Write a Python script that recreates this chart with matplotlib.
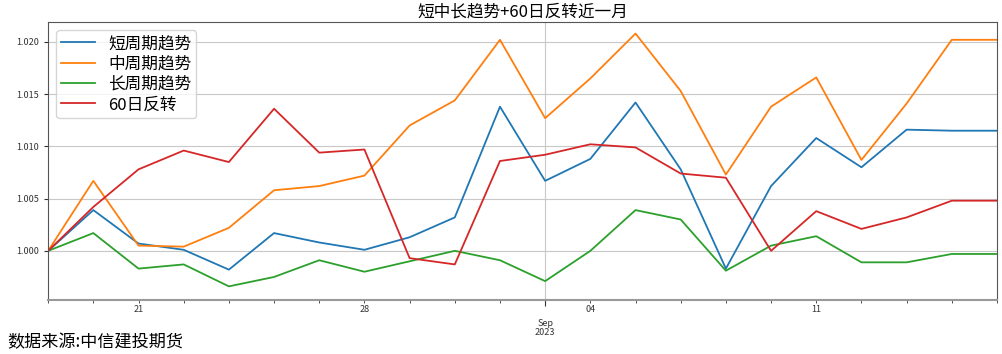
import numpy as np
import matplotlib
matplotlib.use('Agg')
import matplotlib.pyplot as plt

plt.rcParams['font.family'] = ['Noto Sans CJK SC', 'DejaVu Sans']
plt.rcParams['axes.unicode_minus'] = False

# business days, 2023-08-17 .. 2023-09-15
dates = ['2023-08-17', '2023-08-18', '2023-08-21', '2023-08-22', '2023-08-23',
         '2023-08-24', '2023-08-25', '2023-08-28', '2023-08-29', '2023-08-30',
         '2023-08-31', '2023-09-01', '2023-09-04', '2023-09-05', '2023-09-06',
         '2023-09-07', '2023-09-08', '2023-09-11', '2023-09-12', '2023-09-13',
         '2023-09-14', '2023-09-15']

short_trend = [1.0000, 1.0039, 1.0007, 1.0001, 0.9982, 1.0017, 1.0008, 1.0001,
               1.0013, 1.0032, 1.0138, 1.0067, 1.0088, 1.0142, 1.0078, 0.9983,
               1.0062, 1.0108, 1.0080, 1.0116, 1.0115, 1.0115]
mid_trend = [1.0000, 1.0067, 1.0005, 1.0004, 1.0022, 1.0058, 1.0062, 1.0072,
             1.0120, 1.0144, 1.0202, 1.0127, 1.0165, 1.0208, 1.0153, 1.0073,
             1.0138, 1.0166, 1.0087, 1.0141, 1.0202, 1.0202]
long_trend = [1.0000, 1.0017, 0.9983, 0.9987, 0.9966, 0.9975, 0.9991, 0.9980,
              0.9990, 1.0000, 0.9991, 0.9971, 1.0000, 1.0039, 1.0030, 0.9981,
              1.0005, 1.0014, 0.9989, 0.9989, 0.9997, 0.9997]
reversal_60 = [1.0000, 1.0042, 1.0078, 1.0096, 1.0085, 1.0136, 1.0094, 1.0097,
               0.9993, 0.9987, 1.0086, 1.0092, 1.0102, 1.0099, 1.0074, 1.0070,
               1.0000, 1.0038, 1.0021, 1.0032, 1.0048, 1.0048]

series = [('短周期趋势', short_trend), ('中周期趋势', mid_trend),
          ('长周期趋势', long_trend), ('60日反转', reversal_60)]

d = np.array(dates, dtype='datetime64[D]')
x = np.arange(len(d))

fig = plt.figure(figsize=(10.03, 3.54), dpi=100)
ax = fig.add_axes([0.048, 0.153, 0.946, 0.785])

for name, vals in series:
    ax.plot(x, vals, label=name, linewidth=1.3)

ax.set_xlim(x[0], x[-1])
ax.set_ylim(0.99531, 1.02191)
ax.set_yticks([1.000, 1.005, 1.010, 1.015, 1.020])
ax.set_yticklabels(['%.3f' % v for v in ax.get_yticks()])

# pandas-like business day axis: month start as major, Mondays labelled
days = d.astype(object)
month_start = [i for i in x if i == 0 or days[i].month != days[i - 1].month]
month_start = [i for i in month_start if days[i].day <= 3]
ax.set_xticks(month_start)
ax.set_xticklabels([days[i].strftime('%b\n%Y') for i in month_start],
                   linespacing=0.95)
ax.set_xticks(x, minor=True)
ax.set_xticklabels([days[i].strftime('%d') if days[i].weekday() == 0 else ''
                    for i in x], minor=True)

ax.tick_params(axis='both', which='both', labelsize=6.5, colors='#333333')
ax.tick_params(axis='x', which='minor', length=2, pad=2)
ax.tick_params(axis='x', which='major', length=4, pad=10)
ax.tick_params(axis='y', length=3)

ax.grid(True, which='major', color='#c8c8c8', linewidth=0.8)
for s in ax.spines.values():
    s.set_color('#555555')
ax.spines['bottom'].set_color('#999999')
ax.spines['bottom'].set_linewidth(1.5)

ax.set_title('短中长趋势+60日反转近一月', fontsize=12, pad=4)
ax.legend(loc='upper left', fontsize=12, labelspacing=0.2,
          borderaxespad=0.5, borderpad=0.3)

fig.text(0.007, 0.034, '数据来源:中信建投期货', fontsize=12.3, va='center')

fig.savefig('out.png', dpi=100)
